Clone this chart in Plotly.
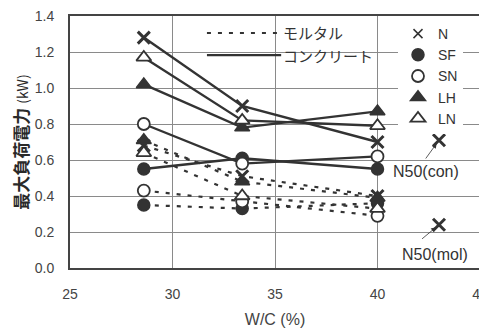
import plotly.graph_objects as go

wc = [28.6, 33.4, 40.0]
series = ["N", "SF", "SN", "LH", "LN"]
concrete = {
    "N": [1.28, 0.90, 0.70],
    "SF": [0.55, 0.61, 0.55],
    "SN": [0.80, 0.58, 0.62],
    "LH": [1.02, 0.78, 0.87],
    "LN": [1.17, 0.82, 0.79],
}
mortar = {
    "N": [0.68, 0.51, 0.40],
    "SF": [0.35, 0.33, 0.36],
    "SN": [0.43, 0.37, 0.29],
    "LH": [0.71, 0.48, 0.39],
    "LN": [0.64, 0.40, 0.33],
}
n50_x = [43.0]
n50_con = [0.71]
n50_mol = [0.24]
yticks = [0.0, 0.2, 0.4, 0.6, 0.8, 1.0, 1.2, 1.4]
xticks = [25, 30, 35, 40, 45]

ink = "#333333"
dash = "4px,7px"
sym = {
    "N": dict(symbol="x-thin", color=ink, line=dict(color=ink, width=3), size=12),
    "SF": dict(symbol="circle", color=ink, line=dict(color=ink, width=1.5), size=12),
    "SN": dict(symbol="circle", color="white", line=dict(color=ink, width=1.8), size=12),
    "LH": dict(symbol="triangle-up", color=ink, line=dict(color=ink, width=1.5), size=13),
    "LN": dict(symbol="triangle-up", color="white", line=dict(color=ink, width=1.8), size=13),
}

fig = go.Figure()
for s in series:
    fig.add_trace(go.Scatter(x=wc, y=mortar[s], mode="lines+markers",
                             line=dict(color=ink, width=2.2, dash=dash),
                             marker=sym[s], showlegend=False))
for s in series:
    fig.add_trace(go.Scatter(x=wc, y=concrete[s], mode="lines+markers",
                             line=dict(color=ink, width=2.4),
                             marker=sym[s], showlegend=False))
fig.add_trace(go.Scatter(x=n50_x, y=n50_con, mode="markers", marker=sym["N"], showlegend=False))
fig.add_trace(go.Scatter(x=n50_x, y=n50_mol, mode="markers", marker=sym["N"], showlegend=False))

# marker legend
for s in series:
    m = dict(sym[s])
    if s == "N":
        m = dict(symbol="x-thin", color=ink, line=dict(color=ink, width=1.5), size=9)
    fig.add_trace(go.Scatter(x=[None], y=[None], mode="markers", marker=m, name=s,
                             showlegend=True))

# line-style key
fig.add_shape(type="rect", xref="paper", yref="paper", x0=0.317, x1=0.745, y0=0.80, y1=0.968,
              fillcolor="white", line=dict(width=0), layer="between")
fig.add_shape(type="line", xref="paper", yref="paper", x0=0.334, x1=0.515, y0=0.933, y1=0.933,
              line=dict(color=ink, width=2, dash=dash))
fig.add_shape(type="line", xref="paper", yref="paper", x0=0.334, x1=0.515, y0=0.845, y1=0.845,
              line=dict(color=ink, width=2.2))
key_font = dict(size=15, color=ink, family="Noto Sans CJK JP")
fig.add_annotation(xref="paper", yref="paper", x=0.515, y=0.933, text="モルタル", showarrow=False,
                   xanchor="left", yanchor="middle", font=key_font)
fig.add_annotation(xref="paper", yref="paper", x=0.515, y=0.845, text="コンクリート", showarrow=False,
                   xanchor="left", yanchor="middle", font=key_font)

# N50 labels
lab_font = dict(size=16, color=ink, family="Liberation Sans")
fig.add_annotation(x=42.35, y=0.535, text="N50(con)", showarrow=False, font=lab_font)
fig.add_annotation(x=42.8, y=0.075, text="N50(mol)", showarrow=False, font=lab_font)
fig.add_annotation(x=n50_x[0], y=n50_con[0], ax=42.3, ay=0.60, axref="x", ayref="y",
                   text="", showarrow=True, arrowhead=2, arrowsize=1.2, arrowwidth=0.8,
                   arrowcolor=ink, standoff=4)
fig.add_annotation(x=n50_x[0], y=n50_mol[0], ax=42.1, ay=0.155, axref="x", ayref="y",
                   text="", showarrow=True, arrowhead=2, arrowsize=1.2, arrowwidth=0.8,
                   arrowcolor=ink, standoff=4)

# the page body adds an 8px offset; figure sized to fit the window
fig.update_layout(
    width=479, height=320,
    margin=dict(l=62, r=7, t=8, b=60),
    paper_bgcolor="white", plot_bgcolor="white",
    font=dict(family="Liberation Sans", color="#444444", size=14),
    legend=dict(x=0.80, y=0.992, xanchor="left", yanchor="top", bgcolor="white",
                font=dict(size=14, color=ink, family="Liberation Sans"),
                itemwidth=30, tracegroupgap=0),
    xaxis=dict(range=[25, 45], tickvals=xticks, showgrid=True, gridcolor="#8a8a8a", gridwidth=1,
               showline=True, linecolor="#444444", linewidth=2, mirror=True, zeroline=False,
               ticks="", ticklabelstandoff=12, ticklabeloverflow="allow", automargin=False,
               title=dict(text="W/C (%)", font=dict(size=16, color="#444444"), standoff=14)),
    yaxis=dict(range=[0, 1.4], tickvals=yticks, tickformat=".1f", showgrid=True,
               gridcolor="#8a8a8a", gridwidth=1, showline=True, linecolor="#444444", linewidth=2,
               mirror=True, zeroline=False, ticks="", ticklabelstandoff=11, automargin=False,
               ticklabeloverflow="allow",
               title=dict(text="<b>最大負荷電力</b> <span style='font-size:14px'>(kW)</span>",
                          standoff=10,
                          font=dict(size=17, color="#2a2a2a", family="Noto Sans CJK JP"))),
)
fig.write_html("out.html")
